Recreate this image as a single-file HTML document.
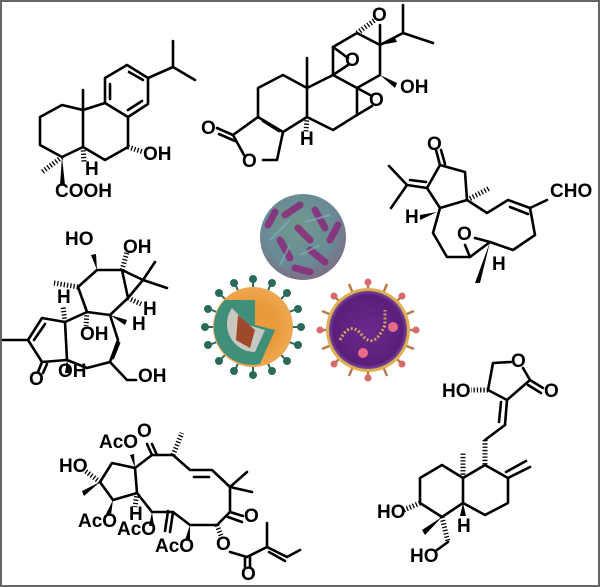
<!DOCTYPE html>
<html><head><meta charset="utf-8"><style>
html,body{margin:0;padding:0;background:#fff}
svg{display:block}
text{font-family:"Liberation Sans",Arial,sans-serif;font-weight:bold;font-size:19px;fill:#000}
</style></head><body>
<svg width="600" height="587" viewBox="0 0 600 587" xmlns="http://www.w3.org/2000/svg">
<defs>
<radialGradient id="v1" cx="45%" cy="40%" r="60%"><stop offset="0" stop-color="#6f9a8c"/><stop offset="0.7" stop-color="#6a8a96"/><stop offset="1" stop-color="#7d6f86"/></radialGradient>
<radialGradient id="v2" cx="50%" cy="50%" r="50%"><stop offset="0.6" stop-color="#e99a3a"/><stop offset="1" stop-color="#f0a850"/></radialGradient>
<radialGradient id="v3" cx="50%" cy="50%" r="50%"><stop offset="0" stop-color="#6a2a8c"/><stop offset="0.9" stop-color="#5a1f7a"/><stop offset="1" stop-color="#7a4a9a"/></radialGradient>
</defs>
<rect x="1" y="1" width="598" height="585" fill="#fff" stroke="#666" stroke-width="2"/>
<g fill="none" stroke="#000" stroke-width="2.6" stroke-linejoin="round" stroke-linecap="round">
<polygon points="105,78 127,65 148,78 148,104 128,117 105,103"/>
<line x1="110" y1="84" x2="110" y2="99"/><line x1="129" y1="72" x2="143" y2="80"/><line x1="142" y1="101" x2="128" y2="110"/>
<polyline points="148,78 173,67 173,41"/><line x1="173" y1="67" x2="195" y2="80"/>
<polyline points="105,103 83,110 62,105 40,117 40,145 62,157 83,147 83,110"/>
<line x1="83" y1="110" x2="83" y2="90"/>
<polyline points="83,147 105,160 128,147 128,117"/>
<polyline points="233,135 258,117 283,132 277,160 263,160"/>
<line x1="233" y1="135" x2="244" y2="155"/>
<line x1="233" y1="135" x2="217" y2="128"/><line x1="235" y1="141" x2="219" y2="134"/>
<line x1="263" y1="121" x2="279" y2="131"/>
<polyline points="258,117 258,88 283,75 307,88 307,117 283,132"/>
<line x1="307" y1="88" x2="307" y2="58"/>
<polyline points="307,88 333,75 357,88 357,115 333,130 307,117"/>
<polyline points="333,75 333,47 357,33 380,45 380,75 357,88"/>
<line x1="357" y1="88" x2="372" y2="96"/><line x1="357" y1="115" x2="372" y2="106"/>
<line x1="333" y1="47" x2="348" y2="58"/><line x1="333" y1="75" x2="348" y2="65"/>
<line x1="380" y1="45" x2="380" y2="25"/>
<polyline points="380,45 403,33 403,5"/><line x1="403" y1="33" x2="433" y2="43"/>
<polyline points="440,165 465,172 467,200 440,208 427,188 440,165"/>
<line x1="440" y1="165" x2="436" y2="150"/><line x1="445" y1="164" x2="441" y2="150"/>
<line x1="427" y1="188" x2="407" y2="185"/><line x1="426" y1="182" x2="410" y2="180"/>
<line x1="407" y1="185" x2="389" y2="166"/><line x1="407" y1="185" x2="391" y2="208"/>
<polyline points="467,200 487,213 508,200 530,208 547,200"/>
<line x1="510" y1="207" x2="528" y2="214"/>
<polyline points="440,208 433,233 447,257 470,257 490,242 513,250 535,235 530,208"/>
<line x1="470" y1="257" x2="465" y2="245"/><line x1="490" y1="242" x2="475" y2="238"/>
<polyline points="97,270 122,270 128,298 110,315 87,312 78,287 97,270"/>
<polyline points="122,270 143,280 128,298"/>
<line x1="143" y1="280" x2="155" y2="262"/><line x1="143" y1="280" x2="167" y2="288"/>
<polyline points="87,312 65,322 67,360 87,368 110,362 118,340 110,315"/>
<line x1="113" y1="358" x2="119" y2="343"/>
<polyline points="65,322 42,318 28,340 42,362 67,360"/>
<line x1="45" y1="324" x2="34" y2="340"/>
<line x1="28" y1="340" x2="3" y2="340"/>
<line x1="42" y1="362" x2="38" y2="372"/><line x1="47" y1="364" x2="43" y2="373"/>
<polyline points="110,362 127,380 136,380"/>
<polyline points="100,482 112,463 135,468 137,493 113,500 100,482"/>
<polyline points="135,468 152,455 173,455 190,470 212,470 230,487 230,512 217,525 190,525 173,512 152,512 137,493"/>
<line x1="152" y1="455" x2="147" y2="444"/><line x1="157" y1="455" x2="152" y2="444"/>
<line x1="194" y1="477" x2="209" y2="477"/>
<line x1="230" y1="487" x2="247" y2="472"/><line x1="230" y1="487" x2="252" y2="492"/>
<line x1="230" y1="512" x2="243" y2="516"/><line x1="228" y1="517" x2="242" y2="522"/>
<line x1="173" y1="512" x2="170" y2="532"/><line x1="168" y1="511" x2="165" y2="531"/>
<polyline points="230,552 247,557 267,547 287,557 300,550"/>
<line x1="267" y1="547" x2="267" y2="523"/>
<line x1="269" y1="552" x2="285" y2="561"/>
<line x1="245" y1="557" x2="245" y2="567"/><line x1="250" y1="557" x2="250" y2="567"/>
<polyline points="488,390 493,363 511,362"/>
<polyline points="523,368 530,380 507,400 488,390"/>
<line x1="530" y1="380" x2="543" y2="388"/><line x1="528" y1="385" x2="541" y2="393"/>
<line x1="507" y1="400" x2="505" y2="425"/><line x1="501" y1="402" x2="499" y2="422"/>
<line x1="505" y1="425" x2="485" y2="440"/>
<polyline points="485,465 463,478 442,465 420,478 420,503 442,517 463,503 463,478"/>
<polyline points="485,465 508,478 508,503 485,515 463,503"/>
<line x1="508" y1="478" x2="530" y2="467"/><line x1="506" y1="472" x2="526" y2="461"/>
<line x1="437" y1="550" x2="448" y2="542"/>
</g>
<g fill="#000" stroke="none">
<polygon points="62,157 60,185 65,185"/>
<polygon points="380,75 397,83 395,88"/>
<polygon points="380,45 395,38 397,42"/>
<polygon points="437,212 420,215 420,220"/>
<polygon points="490,242 475,283 480,283"/>
<polygon points="97,270 91,255 96,254"/>
<polygon points="110,315 127,320 125,325"/>
<polygon points="67,360 65,373 70,373"/>
<polygon points="100,482 82,491 84,496"/>
<polygon points="135,468 130,455 134,454"/>
<polygon points="113,500 106,514 111,515"/>
<polygon points="152,512 149,526 154,526"/>
<polygon points="190,525 185,540 190,541"/>
<polygon points="442,517 422,530 425,535"/>
<polygon points="463,503 460,516 466,516"/>
</g>
<g fill="none" stroke="#000" stroke-width="5" stroke-dasharray="1.3,2">
<line x1="62" y1="157" x2="42" y2="172"/>
<line x1="83" y1="147" x2="84" y2="163"/>
<line x1="128" y1="147" x2="143" y2="152"/>
<line x1="307" y1="117" x2="306" y2="132"/>
<line x1="357" y1="33" x2="375" y2="20"/>
<line x1="467" y1="200" x2="490" y2="188"/>
<line x1="122" y1="270" x2="127" y2="252"/>
<line x1="78" y1="287" x2="54" y2="283"/>
<line x1="128" y1="298" x2="141" y2="304"/>
<line x1="87" y1="312" x2="86" y2="326"/>
<line x1="65" y1="322" x2="63" y2="306"/>
<line x1="100" y1="482" x2="84" y2="470"/>
<line x1="137" y1="493" x2="135" y2="507"/>
<line x1="173" y1="455" x2="182" y2="433"/>
<line x1="217" y1="525" x2="222" y2="538"/>
<line x1="488" y1="390" x2="471" y2="390"/>
<line x1="485" y1="440" x2="485" y2="465"/>
<line x1="463" y1="478" x2="463" y2="452"/>
<line x1="420" y1="503" x2="404" y2="510"/>
<line x1="442" y1="517" x2="448" y2="542"/>
</g>
<text x="143" y="160">OH</text>
<text x="55" y="197">COOH</text>
<text x="85" y="175">H</text>
<text x="201" y="134">O</text>
<text x="242" y="167">O</text>
<text x="300" y="145">H</text>
<text x="369" y="106">O</text>
<text x="345" y="66">O</text>
<text x="372" y="21">O</text>
<text x="400" y="93">OH</text>
<text x="427" y="150">O</text>
<text x="550" y="197">CHO</text>
<text x="405" y="223">H</text>
<text x="457" y="240">O</text>
<text x="492" y="270">H</text>
<text x="65" y="245">HO</text>
<text x="123" y="253">OH</text>
<text x="57" y="303">H</text>
<text x="143" y="315">H</text>
<text x="132" y="330">H</text>
<text x="80" y="340">OH</text>
<text x="29" y="385">O</text>
<text x="58" y="377">OH</text>
<text x="138" y="382">OH</text>
<text x="99" y="448">AcO</text>
<text x="137" y="437">O</text>
<text x="59" y="472">HO</text>
<text x="129" y="520">H</text>
<text x="78" y="527">AcO</text>
<text x="117" y="535">AcO</text>
<text x="155" y="552">AcO</text>
<text x="244" y="522">O</text>
<text x="216" y="550">O</text>
<text x="241" y="580">O</text>
<text x="511" y="367">O</text>
<text x="544" y="397">O</text>
<text x="442" y="397">HO</text>
<text x="457" y="532">H</text>
<text x="377" y="518">HO</text>
<text x="410" y="562">HO</text>
<circle cx="303" cy="237" r="43" fill="url(#v1)"/>
<g stroke="#8a2a7a" stroke-width="7" stroke-linecap="round" opacity="0.85">
<line x1="285" y1="215" x2="300" y2="205"/><line x1="315" y1="210" x2="325" y2="228"/>
<line x1="280" y1="240" x2="290" y2="258"/><line x1="310" y1="250" x2="325" y2="262"/>
<line x1="298" y1="228" x2="310" y2="240"/><line x1="268" y1="225" x2="275" y2="212"/>
<line x1="330" y1="240" x2="338" y2="225"/><line x1="295" y1="268" x2="310" y2="272"/>
</g>
<g stroke="#7ab0b8" stroke-width="2" opacity="0.7">
<line x1="270" y1="240" x2="290" y2="220"/><line x1="305" y1="222" x2="330" y2="215"/>
<line x1="300" y1="255" x2="320" y2="245"/><line x1="280" y1="265" x2="290" y2="245"/>
</g>
<g stroke="#2a6a5a" stroke-width="2">
<line x1="253" y1="277" x2="253" y2="377"/><line x1="203" y1="327" x2="303" y2="327"/>
<line x1="218" y1="292" x2="288" y2="362"/><line x1="288" y1="292" x2="218" y2="362"/>
<line x1="234" y1="281" x2="272" y2="373"/><line x1="272" y1="281" x2="234" y2="373"/>
<line x1="207" y1="308" x2="299" y2="346"/><line x1="207" y1="346" x2="299" y2="308"/>
</g>
<g fill="#2a6a5a">
<circle cx="253" cy="279" r="4"/><circle cx="253" cy="375" r="4"/><circle cx="205" cy="327" r="4"/><circle cx="301" cy="327" r="4"/>
<circle cx="219" cy="293" r="4"/><circle cx="287" cy="361" r="4"/><circle cx="287" cy="293" r="4"/><circle cx="219" cy="361" r="4"/>
<circle cx="234" cy="283" r="4"/><circle cx="272" cy="371" r="4"/><circle cx="272" cy="283" r="4"/><circle cx="234" cy="371" r="4"/>
<circle cx="208" cy="309" r="4"/><circle cx="298" cy="345" r="4"/><circle cx="208" cy="345" r="4"/><circle cx="298" cy="309" r="4"/>
</g>
<circle cx="253" cy="327" r="40" fill="url(#v2)"/>
<path d="M225,300 A38,38 0 0 0 260,364 L275,330 L255,325 L255,300 Z" fill="#3f8f7a"/>
<path d="M232,308 A28,28 0 0 0 255,352 L265,330 L248,325 Z" fill="#c8c8c0"/>
<path d="M238,315 L255,330 L250,348 L236,340 Z" fill="#a0482a"/>
<g stroke="#b87a4a" stroke-width="2.5">
<line x1="368" y1="280" x2="368" y2="380"/><line x1="318" y1="330" x2="418" y2="330"/>
<line x1="333" y1="295" x2="403" y2="365"/><line x1="403" y1="295" x2="333" y2="365"/>
<line x1="349" y1="284" x2="387" y2="376"/><line x1="387" y1="284" x2="349" y2="376"/>
<line x1="322" y1="311" x2="414" y2="349"/><line x1="322" y1="349" x2="414" y2="311"/>
</g>
<g fill="#d86a6a">
<circle cx="368" cy="282" r="3.5"/><circle cx="368" cy="378" r="3.5"/><circle cx="320" cy="330" r="3.5"/><circle cx="416" cy="330" r="3.5"/>
<circle cx="334" cy="296" r="3.5"/><circle cx="402" cy="364" r="3.5"/><circle cx="402" cy="296" r="3.5"/><circle cx="334" cy="364" r="3.5"/>
</g>
<circle cx="368" cy="330" r="42" fill="#e0b050"/>
<circle cx="368" cy="330" r="39" fill="url(#v3)"/>
<path d="M340,340 Q350,320 362,335 T385,325 L385,310" fill="none" stroke="#d8a060" stroke-width="3" stroke-dasharray="2,2"/>
<circle cx="393" cy="327" r="5" fill="#e86a8a"/><circle cx="363" cy="353" r="5" fill="#e86a8a"/>
</svg>
</body></html>
